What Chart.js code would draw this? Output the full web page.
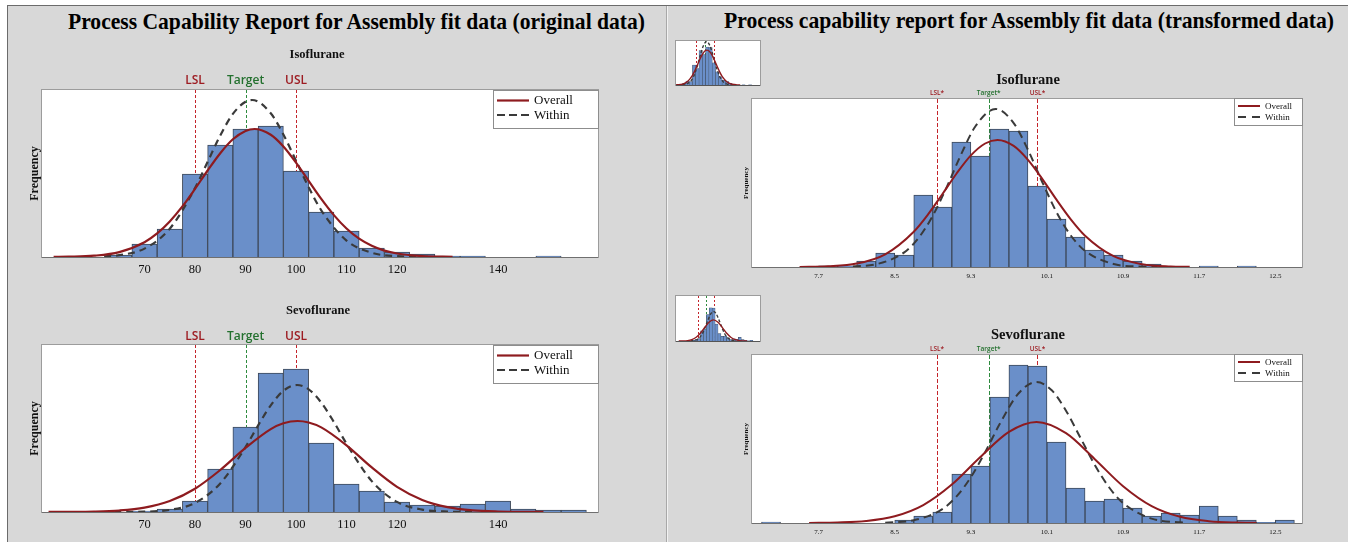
<!DOCTYPE html>
<html><head><meta charset="utf-8">
<script src="https://cdn.jsdelivr.net/npm/chart.js@4.4.0/dist/chart.umd.min.js"></script>
<style>
html,body{margin:0;padding:0;background:#fff;width:1348px;height:542px;overflow:hidden;position:relative;}
#frame{position:absolute;left:7px;top:5px;width:1341px;height:537px;background:#d8d8d8;border-left:1px solid #6b6b6b;border-top:1px solid #6b6b6b;box-sizing:border-box;}
.dv1{position:absolute;left:666px;top:6px;width:1px;height:536px;background:#a8a8a8;}
.dv2{position:absolute;left:667px;top:6px;width:1px;height:536px;background:#f2f2f2;}
.title{position:absolute;white-space:nowrap;font-family:'Liberation Serif','Times New Roman',serif;font-weight:bold;font-size:23px;line-height:28px;transform-origin:0 0;color:#000;}
canvas{position:absolute;}
</style></head><body>
<div id="frame"></div><div class="dv1"></div><div class="dv2"></div>
<div class="title" id="t1" style="left:68px;top:8px">Process Capability Report for Assembly fit data (original data)</div>
<div class="title" id="t2" style="left:724px;top:7px">Process capability report for Assembly fit data (transformed data)</div>
<canvas id="lt" width="658" height="242" style="left:8px;top:40px"></canvas>
<canvas id="lb" width="658" height="245" style="left:8px;top:295px"></canvas>
<canvas id="rt" width="680" height="225" style="left:668px;top:60px"></canvas>
<canvas id="rb" width="680" height="225" style="left:668px;top:315px"></canvas>
<canvas id="th1" width="86" height="46" style="left:675px;top:40px"></canvas>
<canvas id="th2" width="86" height="47" style="left:675px;top:295px"></canvas>
<script>
// ---------- data ----------
const seriesNames = ['Overall', 'Within'];
const origSpecLabels = ['LSL', 'Target', 'USL'];
const transSpecLabels = ['LSL*', 'Target*', 'USL*'];
const origSpecValues = [80, 90, 100];
const transSpecValues = [8.944, 9.487, 10.0];
const origTickValues = [70, 80, 90, 100, 110, 120, 140];
const transTickValues = [7.7, 8.5, 9.3, 10.1, 10.9, 11.7, 12.5];

const origBinCenters = [65, 70, 75, 80, 85, 90, 95, 100, 105, 110, 115, 120, 125, 130, 135, 140, 145, 150, 155];
const isoOrigFreq  = [2, 13, 28, 83, 112, 128, 131, 86, 45, 26, 9, 5, 3, 0.8, 0.8, 0, 0, 1, 0];
const sevoOrigFreq = [0, 1, 3, 11, 43, 85, 139, 143, 69, 28, 21, 10, 7, 6, 8, 11, 3, 2, 2];

const transBinCenters = [7.2, 7.4, 7.6, 7.8, 8.0, 8.2, 8.4, 8.6, 8.8, 9.0, 9.2, 9.4, 9.6, 9.8, 10.0, 10.2, 10.4, 10.6, 10.8, 11.0, 11.2, 11.4, 11.6, 11.8, 12.0, 12.2, 12.4, 12.6];
const isoTransFreq  = [0, 0, 0, 1.2, 1.2, 6, 14, 12, 72, 60, 125, 111, 138, 136, 81, 48, 30, 17, 12, 6, 3, 0, 0, 1, 0, 1, 0, 0];
const sevoTransFreq = [1, 0, 0, 0, 0, 0, 0, 3, 7, 11, 49, 57, 126, 158, 157, 81, 35, 22, 24, 15, 7, 10, 8, 17, 7, 3, 0.7, 3];

// fitted curves, traced point by point
const isoOrigOverallX = [52, 55, 60, 65, 70, 72.5, 75, 77.5, 80, 82.5, 85, 87.5, 90, 91.8, 95, 97.5, 100, 102.5, 105, 107.5, 110, 112.5, 115, 117.5, 120, 125, 131];
const isoOrigOverallY = [0.1, 0.3, 1.3, 4.9, 14.8, 23.6, 35.6, 50.6, 68.1, 86.5, 103.8, 117.7, 126.1, 128, 122.2, 110.5, 94.4, 76.2, 58.1, 41.9, 28.5, 18.3, 11.2, 6.4, 3.5, 0.9, 0.1];
const isoOrigWithinX = [62, 65, 70, 75, 80, 82.5, 85, 87.5, 90, 91.3, 95, 97.5, 100, 102.5, 105, 110, 115, 120, 127];
const isoOrigWithinY = [0.6, 1.8, 8.4, 28.3, 68.9, 95.2, 121.5, 143.1, 155.3, 157, 143.7, 122.5, 96.3, 69.8, 46.7, 16.4, 4.2, 0.8, 0.1];

const sevoOrigOverallX = [51, 55, 60, 65, 70, 75, 80, 85, 90, 95, 97.5, 100.3, 102.5, 105, 110, 115, 120, 125, 130, 135, 140, 145, 149];
const sevoOrigOverallY = [0.03, 0.1, 0.4, 1.5, 4.4, 11.0, 23.3, 42.0, 64.1, 82.9, 88.7, 91, 89.5, 84.6, 66.7, 44.6, 25.2, 12.1, 4.9, 1.7, 0.5, 0.1, 0.04];
const sevoOrigWithinX = [64, 70, 75, 80, 85, 90, 92.5, 95, 97.5, 100.2, 102.5, 105, 107.5, 110, 115, 120, 125, 130, 135];
const sevoOrigWithinY = [0.03, 0.35, 2.1, 9.1, 28.6, 64.9, 86.6, 106.7, 121.2, 127, 122.7, 109.4, 90.0, 68.3, 30.9, 10.1, 2.4, 0.4, 0.05];

const isoTransOverallX = [7.5, 7.8, 8.1, 8.4, 8.7, 8.85, 9.0, 9.15, 9.3, 9.45, 9.58, 9.75, 9.9, 10.05, 10.2, 10.35, 10.5, 10.8, 11.1, 11.4, 11.6];
const isoTransOverallY = [0.1, 0.7, 3.4, 12.7, 35.3, 52.6, 72.8, 93.5, 111.6, 123.5, 127, 121.1, 107.2, 88.2, 67.3, 47.7, 31.3, 10.8, 2.8, 0.5, 0.15];
const isoTransWithinX = [8.06, 8.3, 8.6, 8.75, 8.9, 9.05, 9.2, 9.35, 9.56, 9.75, 9.9, 10.05, 10.2, 10.35, 10.5, 10.8, 11.1, 11.26];
const isoTransWithinY = [0.5, 2.6, 14.6, 29.0, 51.3, 80.7, 113.1, 141.0, 158, 143.9, 117.2, 85.0, 54.9, 31.5, 16.1, 3.0, 0.35, 0.1];

const sevoTransOverallX = [7.6, 7.9, 8.2, 8.5, 8.8, 9.1, 9.4, 9.7, 9.99, 10.3, 10.6, 10.9, 11.2, 11.5, 11.8, 12.1, 12.3];
const sevoTransOverallY = [0.1, 0.5, 2.0, 6.7, 17.9, 38.4, 66.0, 91.1, 101, 89.8, 64.1, 36.8, 16.9, 6.2, 1.85, 0.44, 0.15];
const sevoTransWithinX = [8.4, 8.7, 9.0, 9.15, 9.3, 9.45, 9.6, 9.8, 9.99, 10.15, 10.3, 10.45, 10.6, 10.75, 10.9, 11.2, 11.5, 11.56];
const sevoTransWithinY = [0.36, 2.8, 13.9, 26.6, 45.8, 70.8, 98.4, 129.5, 141, 132.7, 112.3, 85.5, 58.5, 36.0, 19.9, 4.4, 0.64, 0.5];

// ---------- styling ----------
const overallColor = '#8e1b1f';
const withinColor = '#3a3a3a';
const barFill = '#6a8fc9';
const barEdge = '#3d4859';
const specLineColors = ['#c4242b', '#2e8b3e', '#c4242b'];
const specLabelColors = ['#9d1c22', '#23702e', '#9d1c22'];
const SERIF = "'Liberation Serif','Times New Roman',serif";

Chart.defaults.font.family = SERIF;
Chart.defaults.color = '#111';

function pts(xs, ys) { return xs.map((x, i) => ({ x: x, y: ys[i] })); }

const panels = {};

const capPlugin = {
  id: 'capPlugin',
  beforeDraw(chart) {
    const a = chart.chartArea, ctx = chart.ctx;
    ctx.save();
    ctx.fillStyle = '#ffffff';
    ctx.fillRect(a.left, a.top, a.right - a.left, a.bottom - a.top);
    ctx.restore();
  },
  beforeDatasetsDraw(chart) {
    const P = panels[chart.canvas.id];
    const a = chart.chartArea, ctx = chart.ctx, xs = chart.scales.x;
    ctx.save();
    ctx.lineWidth = P.specLW;
    P.specs.forEach((v, i) => {
      const px = Math.round(xs.getPixelForValue(v)) + 0.5;
      ctx.strokeStyle = specLineColors[i];
      ctx.setLineDash(P.specDash);
      ctx.beginPath(); ctx.moveTo(px, a.top); ctx.lineTo(px, a.bottom); ctx.stroke();
    });
    ctx.restore();
  },
  afterDatasetsDraw(chart) {
    const P = panels[chart.canvas.id];
    const a = chart.chartArea, ctx = chart.ctx;
    ctx.save();
    ctx.setLineDash([]);
    ctx.lineWidth = 1;
    ctx.strokeStyle = '#9c9c9c';
    ctx.strokeRect(a.left - 0.5, a.top - 0.5, a.right - a.left + 1, a.bottom - a.top + 1);
    ctx.strokeStyle = P.axisColor;
    ctx.beginPath(); ctx.moveTo(a.left, a.bottom + 0.5); ctx.lineTo(a.right, a.bottom + 0.5); ctx.stroke();
    if (P.legend) {
      const L = P.legend;
      const bx = Math.round(a.right + L.dr - L.w), by = Math.round(a.top + L.dt);
      ctx.fillStyle = '#ffffff';
      ctx.fillRect(bx, by, L.w, L.h);
      ctx.strokeStyle = '#8d8d8d';
      ctx.strokeRect(bx + 0.5, by + 0.5, L.w - 1, L.h - 1);
      seriesNames.forEach((name, i) => {
        const ds = chart.data.datasets.find(d => d.label === name);
        const y = by + L.rows[i];
        ctx.strokeStyle = ds.borderColor;
        ctx.lineWidth = ds.borderWidth;
        ctx.setLineDash(L.dashes[i]);
        ctx.beginPath(); ctx.moveTo(bx + L.l0, y); ctx.lineTo(bx + L.l1, y); ctx.stroke();
        ctx.setLineDash([]);
        ctx.fillStyle = '#111';
        ctx.font = L.font;
        ctx.textAlign = 'left';
        ctx.textBaseline = 'middle';
        ctx.fillText(name, bx + L.tx, y + 0.5);
      });
    }
    ctx.restore();
  },
  afterDraw(chart) {
    const P = panels[chart.canvas.id];
    if (!P.sub) return;
    const a = chart.chartArea, ctx = chart.ctx, xs = chart.scales.x;
    ctx.save();
    ctx.textAlign = 'center';
    ctx.textBaseline = 'middle';
    ctx.fillStyle = '#111';
    ctx.font = P.subFont;
    ctx.fillText(P.sub, (a.left + a.right) / 2 + P.subDx, a.top - P.subDy);
    ctx.font = P.labelFont;
    P.specs.forEach((v, i) => {
      ctx.fillStyle = specLabelColors[i];
      ctx.fillText(P.specLabels[i], xs.getPixelForValue(v), a.top - P.labelDy);
    });
    ctx.restore();
  }
};

function buildChart(id, P) {
  panels[id] = P;
  const datasets = [
    { type: 'line', label: seriesNames[0], data: pts(P.ovX, P.ovY), borderColor: overallColor, borderWidth: P.lw,
      pointRadius: 0, fill: false, cubicInterpolationMode: 'monotone', order: 1 },
    { type: 'line', label: seriesNames[1], data: pts(P.wiX, P.wiY), borderColor: withinColor, borderWidth: P.lw,
      borderDash: P.dash, pointRadius: 0, fill: false, cubicInterpolationMode: 'monotone', order: 2 },
    { type: 'bar', label: 'Frequency', data: pts(P.binX, P.freq), backgroundColor: barFill, borderColor: barEdge,
      borderWidth: P.barBW, barPercentage: 1, categoryPercentage: 1, order: 3 }
  ];
  const xScale = {
    type: 'linear', min: P.xmin, max: P.xmax, offset: false,
    display: !P.thumb,
    grid: { display: false, drawTicks: false },
    border: { display: false },
    ticks: { font: { family: SERIF, size: P.tickSize }, color: '#111', padding: P.tickPad, autoSkip: false, maxRotation: 0,
      callback: (v) => String(v) },
    afterBuildTicks: (s) => { if (P.ticks) s.ticks = P.ticks.map(v => ({ value: v })); },
    afterFit: (s) => { if (P.xH) s.height = P.xH; }
  };
  const yScale = {
    type: 'linear', min: 0, max: P.ymax,
    display: !P.thumb,
    grid: { display: false, drawTicks: false },
    border: { display: false },
    ticks: { display: false },
    title: { display: true, text: 'Frequency', font: { family: SERIF, size: P.yTitleSize, weight: 'bold' }, color: '#111', padding: 0 },
    afterFit: (s) => { if (P.yW) s.width = P.yW; }
  };
  return new Chart(document.getElementById(id), {
    type: 'bar',
    data: { datasets },
    options: {
      responsive: false, maintainAspectRatio: false, animation: false,
      devicePixelRatio: 1,
      layout: { padding: P.pad },
      plugins: { legend: { display: false }, title: { display: false }, tooltip: { enabled: false } },
      scales: { x: xScale, y: yScale }
    },
    plugins: [capPlugin]
  });
}

const leftLegend = { w: 106, h: 39, dr: 1, dt: 0, rows: [10.5, 25], l0: 4, l1: 36, tx: 41,
  dashes: [[], [8, 4]], font: "13px " + SERIF };
const rightLegend = { w: 69, h: 28, dr: 1, dt: -1, rows: [8, 19], l0: 4, l1: 26, tx: 31,
  dashes: [[], [8, 6]], font: "9px " + SERIF };

buildChart('lt', {
  binX: origBinCenters, freq: isoOrigFreq, ovX: isoOrigOverallX, ovY: isoOrigOverallY, wiX: isoOrigWithinX, wiY: isoOrigWithinY,
  xmin: 49.7, xmax: 159.8, ymax: 167, ticks: origTickValues, tickSize: 12.5, tickPad: 5, xH: 20, yW: 14, yTitleSize: 12,
  pad: { left: 20, right: 68, top: 50, bottom: 5 }, lw: 2.2, dash: [7, 5], barBW: 1, axisColor: '#6f6f6f',
  specs: origSpecValues, specLabels: origSpecLabels, specLW: 1, specDash: [3, 2],
  sub: 'Isoflurane', subFont: "bold 12.5px " + SERIF, subDx: -3, subDy: 35,
  labelFont: "600 12px 'Open Sans',sans-serif", labelDy: 9, legend: leftLegend
});
buildChart('lb', {
  binX: origBinCenters, freq: sevoOrigFreq, ovX: sevoOrigOverallX, ovY: sevoOrigOverallY, wiX: sevoOrigWithinX, wiY: sevoOrigWithinY,
  xmin: 49.7, xmax: 159.8, ymax: 167, ticks: origTickValues, tickSize: 12.5, tickPad: 5, xH: 20, yW: 14, yTitleSize: 12,
  pad: { left: 20, right: 68, top: 50, bottom: 8 }, lw: 2.2, dash: [7, 5], barBW: 1, axisColor: '#6f6f6f',
  specs: origSpecValues, specLabels: origSpecLabels, specLW: 1, specDash: [3, 2],
  sub: 'Sevoflurane', subFont: "bold 12.5px " + SERIF, subDx: -2, subDy: 34,
  labelFont: "600 12px 'Open Sans',sans-serif", labelDy: 8, legend: leftLegend
});
buildChart('rt', {
  binX: transBinCenters, freq: isoTransFreq, ovX: isoTransOverallX, ovY: isoTransOverallY, wiX: isoTransWithinX, wiY: isoTransWithinY,
  xmin: 7.0, xmax: 12.78, ymax: 168, ticks: transTickValues, tickSize: 7, tickPad: 5, xH: 16, yW: 10, yTitleSize: 7,
  pad: { left: 74, right: 46, top: 39, bottom: 2 }, lw: 2, dash: [8, 5], barBW: 1, axisColor: '#6f6f6f',
  specs: transSpecValues, specLabels: transSpecLabels, specLW: 1, specDash: [4, 2],
  sub: 'Isoflurane', subFont: "bold 14.5px " + SERIF, subDx: 1, subDy: 19,
  labelFont: "600 6.5px 'Open Sans',sans-serif", labelDy: 6, legend: rightLegend
});
buildChart('rb', {
  binX: transBinCenters, freq: sevoTransFreq, ovX: sevoTransOverallX, ovY: sevoTransOverallY, wiX: sevoTransWithinX, wiY: sevoTransWithinY,
  xmin: 7.0, xmax: 12.78, ymax: 168, ticks: transTickValues, tickSize: 7, tickPad: 5, xH: 16, yW: 10, yTitleSize: 7,
  pad: { left: 74, right: 46, top: 40, bottom: 1 }, lw: 2, dash: [8, 5], barBW: 1, axisColor: '#6f6f6f',
  specs: transSpecValues, specLabels: transSpecLabels, specLW: 1, specDash: [4, 2],
  sub: 'Sevoflurane', subFont: "bold 14.5px " + SERIF, subDx: 1, subDy: 20,
  labelFont: "600 6.5px 'Open Sans',sans-serif", labelDy: 6, legend: rightLegend
});
buildChart('th1', {
  thumb: true, binX: transBinCenters, freq: isoTransFreq, ovX: isoTransOverallX, ovY: isoTransOverallY, wiX: isoTransWithinX, wiY: isoTransWithinY,
  xmin: 7.70, xmax: 12.8, ymax: 160, pad: 1, lw: 1.4, dash: [3, 2], barBW: 0.5, axisColor: '#555',
  specs: transSpecValues, specLW: 1, specDash: [2, 2]
});
buildChart('th2', {
  thumb: true, binX: transBinCenters, freq: sevoTransFreq, ovX: sevoTransOverallX, ovY: sevoTransOverallY, wiX: sevoTransWithinX, wiY: sevoTransWithinY,
  xmin: 7.41, xmax: 13.19, ymax: 215, pad: 1, lw: 1.4, dash: [3, 2], barBW: 0.5, axisColor: '#555',
  specs: transSpecValues, specLW: 1, specDash: [2, 2]
});

function fitTitle(id, w) {
  const el = document.getElementById(id);
  const cw = el.getBoundingClientRect().width;
  el.style.transform = 'scaleX(' + (w / cw) + ')';
}
fitTitle('t1', 577);
fitTitle('t2', 610);
</script>
</body></html>
